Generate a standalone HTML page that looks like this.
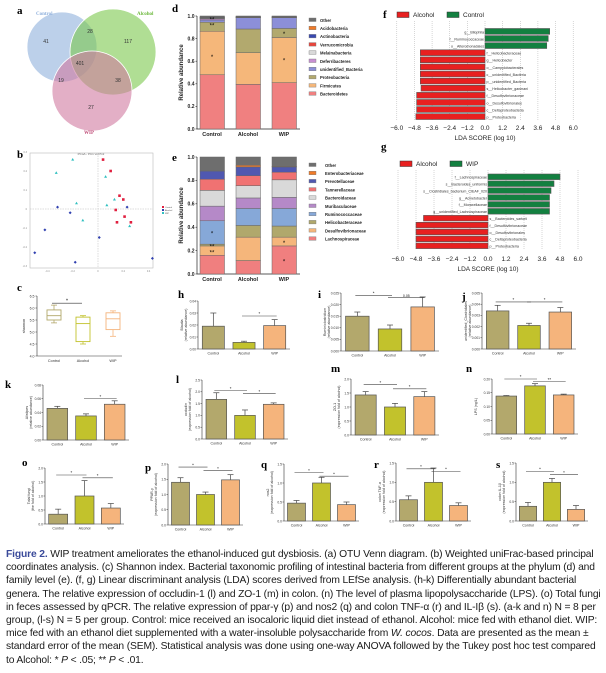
<!DOCTYPE html>
<html><head><meta charset="utf-8"><style>
html,body{margin:0;padding:0;background:#fff;}
svg{display:block;font-family:"Liberation Sans",sans-serif;}
.cap{position:absolute;left:6px;top:548px;width:596px;font-family:"Liberation Sans",sans-serif;font-size:10.3px;line-height:13.2px;color:#1a1a1a;letter-spacing:-0.15px;}
.cap b{color:#3a4a9a;font-weight:bold;}
</style></head><body>
<div style="position:relative;width:606px;height:673px;overflow:hidden">
<svg id="fig" width="606" height="545" viewBox="0 0 606 545"></svg>
<div class="cap"><b>Figure 2.</b> WIP treatment ameliorates the ethanol-induced gut dysbiosis. (a) OTU Venn diagram. (b) Weighted uniFrac-based principal coordinates analysis. (c) Shannon index. Bacterial taxonomic profiling of intestinal bacteria from different groups at the phylum (d) and family level (e). (f, g) Linear discriminant analysis (LDA) scores derived from LEfSe analysis. (h-k) Differentially abundant bacterial genera. The relative expression of occludin-1 (l) and ZO-1 (m) in colon. (n) The level of plasma lipopolysaccharide (LPS). (o) Total fungi in feces assessed by qPCR. The relative expression of ppar-γ (p) and nos2 (q) and colon TNF-α (r) and IL-Iβ (s). (a-k and n) N = 8 per group, (l-s) N = 5 per group. Control: mice received an isocaloric liquid diet instead of ethanol. Alcohol: mice fed with ethanol diet. WIP: mice fed with an ethanol diet supplemented with a water-insoluble polysaccharide from <i>W. cocos</i>. Data are presented as the mean ± standard error of the mean (SEM). Statistical analysis was done using one-way ANOVA followed by the Tukey post hoc test compared to Alcohol: * <i>P</i> &lt; .05; ** <i>P</i> &lt; .01.</div>
</div>
<script>
// ---------- data ----------
const groups = ['Control','Alcohol','WIP'];
const vennCounts = ['41','28','117','401','19','38','27'];
const pcoaCtrlX=[0.04,0.10,0.17,0.20,0.14,0.21,0.15,0.26];
const pcoaCtrlY=[0.26,0.20,0.07,0.05,-0.005,-0.04,-0.07,-0.07];
const pcoaAlcX=[-0.32,-0.22,-0.42,-0.50,-0.18,0.01,0.23,0.43];
const pcoaAlcY=[0.01,-0.02,-0.11,-0.23,-0.28,-0.15,0.01,-0.26];
const pcoaWipX=[-0.20,-0.33,0.06,0.13,0.07,-0.17,-0.12,0.25];
const pcoaWipY=[0.26,0.19,0.17,0.05,0.02,0.03,-0.06,-0.09];
const shannonTicks=[4.0,4.5,5.0,5.5,6.0,6.5];
const shannonMin=[5.38,4.50,4.82];
const shannonQ1=[5.50,4.60,5.10];
const shannonMed=[5.68,5.35,5.55];
const shannonQ3=[5.92,5.62,5.80];
const shannonMax=[6.12,5.68,5.88];
const phylumNames=['Bacteroidetes','Firmicutes','Proteobacteria','unidentified_Bacteria','Deferribacteres','Melainabacteria','Verrucomicrobia','Actinobacteria','Acidobacteria','Other'];
const phylumCtrl=[0.48,0.385,0.08,0.02,0.01,0.005,0.005,0.003,0.002,0.01];
const phylumAlc=[0.395,0.28,0.21,0.10,0.002,0.001,0.001,0.004,0.001,0.006];
const phylumWip=[0.41,0.40,0.08,0.095,0.002,0.001,0.001,0.004,0.001,0.006];
const familyNames=['Lachnospiraceae','Desulfovibrionaceae','Helicobacteraceae','Ruminococcaceae','Muribaculaceae','Bacteroidaceae','Tannerellaceae','Prevotellaceae','Enterobacteriaceae','Other'];
const familyCtrl=[0.16,0.08,0.015,0.20,0.125,0.135,0.095,0.07,0.0,0.12];
const familyAlc=[0.115,0.20,0.10,0.145,0.09,0.105,0.085,0.075,0.015,0.07];
const familyWip=[0.24,0.075,0.095,0.15,0.095,0.15,0.065,0.045,0.005,0.08];
const stackTicks=[0.0,0.2,0.4,0.6,0.8,1.0];
const ldaTicks=[-6.0,-4.8,-3.6,-2.4,-1.2,0.0,1.2,2.4,3.6,4.8,6.0];
const ldaFNames=['g__Bilophila','f__Ruminococcaceae','o__Alteromonadales','f__Helicobacteraceae','g__Helicobacter','o__Campylobacterales','c__unidentified_Bacteria','p__unidentified_Bacteria','s__Helicobacter_ganmani','f__Desulfovibrionaceae','o__Desulfovibrionales','c__Deltaproteobacteria','p__Proteobacteria'];
const ldaFVals=[4.4,4.3,4.2,-4.4,-4.4,-4.4,-4.4,-4.4,-4.35,-4.65,-4.65,-4.65,-4.7];
const ldaGNames=['f__Lachnospiraceae','s__Bacteroides_uniformis','s__Clostridiales_bacterium_CIEAF_020','g__Acinetobacter','f__Moraxellaceae','g__unidentified_Lachnospiraceae','s__Bacteroides_sartorii','f__Desulfovibrionaceae','o__Desulfovibrionales','c__Deltaproteobacteria','p__Proteobacteria'];
const ldaGVals=[4.8,4.4,4.2,4.1,4.1,4.1,-4.3,-4.8,-4.8,-4.8,-4.8];
const hVals=[0.019,0.0055,0.0195], hErr=[0.011,0.001,0.005], hTicks=[0,0.01,0.02,0.03,0.04];
const iVals=[0.015,0.0095,0.019], iErr=[0.0018,0.0017,0.0043], iTicks=[0,0.005,0.010,0.015,0.020,0.025];
const jVals=[0.0034,0.0021,0.0033], jErr=[0.0005,0.0002,0.0004], jTicks=[0,0.001,0.002,0.003,0.004,0.005];
const kVals=[0.046,0.035,0.052], kErr=[0.003,0.003,0.005], kTicks=[0,0.02,0.04,0.06,0.08];
const lVals=[1.68,1.0,1.47], lErr=[0.28,0.23,0.06], lTicks=[0,0.5,1.0,1.5,2.0,2.5];
const mVals=[1.43,1.0,1.37], mErr=[0.12,0.13,0.18], mTicks=[0,0.5,1.0,1.5,2.0];
const nVals=[0.138,0.175,0.142], nErr=[0.002,0.008,0.003], nTicks=[0,0.05,0.10,0.15,0.20];
const oVals=[0.35,1.0,0.57], oErr=[0.18,0.55,0.16], oTicks=[0,0.5,1.0,1.5,2.0];
const pVals=[1.4,1.0,1.48], pErr=[0.15,0.08,0.17], pTicks=[0,0.5,1.0,1.5,2.0];
const qVals=[0.47,1.0,0.43], qErr=[0.07,0.15,0.07], qTicks=[0,0.5,1.0,1.5];
const rVals=[0.55,1.0,0.40], rErr=[0.10,0.37,0.07], rTicks=[0,0.5,1.0,1.5];
const sVals=[0.38,1.0,0.30], sErr=[0.10,0.10,0.10], sTicks=[0,0.5,1.0,1.5];

// ---------- helpers ----------
const NS='http://www.w3.org/2000/svg';
const svg=document.getElementById('fig');
function mk(tag,attrs,parent){const e=document.createElementNS(NS,tag);for(const k in attrs)e.setAttribute(k,attrs[k]);(parent||svg).appendChild(e);return e;}
function txt(x,y,s,size,attrs,parent){const t=mk('text',Object.assign({x:x,y:y,'font-size':size},attrs||{}),parent);t.textContent=s;return t;}
function label(x,y,s){const t=txt(x,y,s,11,{'font-family':'Liberation Serif, serif','font-weight':'bold'});

}
const grpCol=['#b3a86c','#c2c22c','#f5b47c'];

// ---------- a: Venn ----------
label(17,14,'a');
const vg=mk('g',{});


const vc=[[62,47,35,'#8fb0dc'],[113,52,43,'#7cc84c'],[92,91,40,'#d07aa0']];
vc.forEach((c,i)=>{const ci=mk('circle',{cx:c[0],cy:c[1],r:c[2],fill:c[3],'fill-opacity':0.6,stroke:'#fff','stroke-width':0.8},vg);

});
const vpos=[[46,43],[90,33],[128,43],[80,65],[61,82],[118,82],[91,109]];
vennCounts.forEach((s,i)=>{const t=txt(vpos[i][0],vpos[i][1],s,5,{'text-anchor':'middle',fill:'#333'},vg);

});
txt(36,15,'Control',5,{fill:'#8fb0dc','font-weight':'bold','font-family':'Liberation Serif, serif'},vg);
txt(137,15,'Alcohol',5,{fill:'#6cb83c','font-weight':'bold','font-family':'Liberation Serif, serif'},vg);
txt(84,134,'WIP',5,{fill:'#c0507a','font-weight':'bold','font-family':'Liberation Serif, serif'},vg);

// ---------- b: PCoA ----------
label(17,158,'b');
const pg=mk('g',{});


mk('rect',{x:30,y:153,width:123,height:115,fill:'none',stroke:'#bbb','stroke-width':0.6},pg);
const px=v=>98+v*126.5, py=v=>209-v*190;
mk('line',{x1:px(0),x2:px(0),y1:153,y2:268,stroke:'#bbb','stroke-dasharray':'1.5,1','stroke-width':0.5},pg);
mk('line',{x1:30,x2:153,y1:py(0),y2:py(0),stroke:'#bbb','stroke-dasharray':'1.5,1','stroke-width':0.5},pg);
txt(91,155,'PCoA - PC1 vs PC2',3,{'text-anchor':'middle',fill:'#666'},pg);
[-0.4,-0.2,0,0.2,0.4].forEach(v=>txt(px(v),272,String(v),2.5,{'text-anchor':'middle',fill:'#888'},pg));
[0.3,0.2,0.1,0,-0.1,-0.2,-0.3].forEach(v=>txt(27,py(v)+1,String(v),2.5,{'text-anchor':'end',fill:'#888'},pg));
const pc=['#e02040','#3040b0','#30c0c0'];
[[pcoaCtrlX,pcoaCtrlY],[pcoaAlcX,pcoaAlcY],[pcoaWipX,pcoaWipY]].forEach((d,g)=>{
 d[0].forEach((v,i)=>{let m;
  if(g===2) m=mk('path',{d:`M${px(v)},${py(d[1][i])-1.6}l1.5,2.6h-3z`,fill:pc[g]},pg);
  else if(g===1) m=mk('path',{d:`M${px(v)},${py(d[1][i])-1.5}l1.5,1.5l-1.5,1.5l-1.5,-1.5z`,fill:pc[g]},pg);
  else m=mk('rect',{x:px(v)-1.3,y:py(d[1][i])-1.3,width:2.6,height:2.6,fill:pc[g]},pg);
  
  });});
groups.forEach((g,i)=>{mk('rect',{x:162,y:206+i*3,width:2,height:2,fill:pc[i]},pg);txt(165,208+i*3,g,2.2,{fill:'#555'},pg);});

// ---------- c: Shannon ----------
label(17,291,'c');
(function(){const g=mk('g',{});


const x0=37,x1=122,yT=296,yB=356,lo=4.0,hi=6.5;const y=v=>yB-(v-lo)/(hi-lo)*(yB-yT);
mk('line',{x1:x0,x2:x0,y1:yT,y2:yB,stroke:'#333','stroke-width':0.6},g);
mk('line',{x1:x0,x2:x1,y1:yB,y2:yB,stroke:'#333','stroke-width':0.6},g);
shannonTicks.forEach(v=>{mk('line',{x1:x0-1.5,x2:x0,y1:y(v),y2:y(v),stroke:'#333','stroke-width':0.5},g);txt(x0-2.5,y(v)+1.5,v.toFixed(1),3.5,{'text-anchor':'end',fill:'#333'},g);});
txt(0,0,'shannon',3.8,{transform:`translate(${x0-12},${(yT+yB)/2}) rotate(-90)`,'text-anchor':'middle',fill:'#333'},g);
const cx=[54,83,113];
groups.forEach((n,i)=>{const c=cx[i],w=7;
 const bx=mk('rect',{x:c-w,y:y(shannonQ3[i]),width:2*w,height:y(shannonQ1[i])-y(shannonQ3[i]),fill:'#fff',stroke:grpCol[i],'stroke-width':0.9},g);
 
 
 mk('line',{x1:c-w,x2:c+w,y1:y(shannonMed[i]),y2:y(shannonMed[i]),stroke:grpCol[i],'stroke-width':0.9},g);
 mk('line',{x1:c,x2:c,y1:y(shannonMax[i]),y2:y(shannonQ3[i]),stroke:grpCol[i],'stroke-width':0.8},g);
 mk('line',{x1:c,x2:c,y1:y(shannonQ1[i]),y2:y(shannonMin[i]),stroke:grpCol[i],'stroke-width':0.8},g);
 mk('line',{x1:c-3,x2:c+3,y1:y(shannonMax[i]),y2:y(shannonMax[i]),stroke:grpCol[i],'stroke-width':0.8},g);
 mk('line',{x1:c-3,x2:c+3,y1:y(shannonMin[i]),y2:y(shannonMin[i]),stroke:grpCol[i],'stroke-width':0.8},g);
 txt(c,yB+6,n,3.8,{'text-anchor':'middle',fill:'#333'},g);});
mk('line',{x1:52,x2:82,y1:y(6.2),y2:y(6.2),stroke:'#333','stroke-width':0.6},g);
txt(67,y(6.2)-0.5,'*',5,{'text-anchor':'middle'},g);})();

// ---------- stacked bars d,e ----------
function stacked(name,lab,ly,yT,yB,data,cols,names,legY,legX){
 label(172,ly,lab);
 const g=mk('g',{});
 
 
 const y=v=>yB-v*(yB-yT);const ax=197;
 mk('line',{x1:ax,x2:ax,y1:yT,y2:yB,stroke:'#222','stroke-width':0.7},g);
 mk('line',{x1:ax,x2:300,y1:yB,y2:yB,stroke:'#222','stroke-width':0.7},g);
 stackTicks.forEach(v=>{mk('line',{x1:ax-1.5,x2:ax,y1:y(v),y2:y(v),stroke:'#222','stroke-width':0.6},g);txt(ax-2.5,y(v)+1.8,v.toFixed(1),5,{'text-anchor':'end','font-weight':'bold',fill:'#222'},g);});
 txt(0,0,'Relative abundance',6,{transform:`translate(183,${(yT+yB)/2}) rotate(-90)`,'text-anchor':'middle','font-weight':'bold',fill:'#222'},g);
 const bx=[200,236,272];
 data.forEach((arr,gi)=>{let acc=0;arr.forEach((v,k)=>{if(v>0){const r=mk('rect',{x:bx[gi],y:y(acc+v),width:24.5,height:y(acc)-y(acc+v),fill:cols[k],stroke:'#666','stroke-width':0.5},g);
   
   }acc+=v;});
  txt(bx[gi]+12,yB+7,groups[gi],5.5,{'text-anchor':'middle','font-weight':'bold',fill:'#222'},g);});
 const lg=mk('g',{});
 
 
 for(let k=names.length-1,j=0;k>=0;k--,j++){mk('rect',{x:309,y:legY+j*8.2-3,width:7,height:3.5,fill:cols[k],stroke:'#777','stroke-width':0.4},lg);
  txt(legX,legY+j*8.2+0.8,names[k],4.2,{'font-weight':'bold',fill:'#222'},lg);}
 return {g,y};}
const phylumCols=['#f08080','#f5b77a','#b2a96e','#8c8fd8','#c88fd2','#d9d9d9','#e8453c','#3848b0','#f07b28','#6e6e6e'];
const famCols=['#f07f7f','#f5b67b','#b0a86c','#86a8d8','#b589c8','#d9d9d9','#f07272','#5058b0','#f07b28','#6e6e6e'];
const pd=stacked('phylum-stacked-chart','d',12,16,129,[phylumCtrl,phylumAlc,phylumWip],phylumCols,phylumNames,21,320);
[[212,pd.y(0.64),'*'],[212,pd.y(0.975),'**'],[212,pd.y(0.92),'**'],[284,pd.y(0.845),'*'],[284,pd.y(0.61),'*']].forEach(s=>txt(s[0],s[1]+2.5,s[2],6,{'text-anchor':'middle'},pd.g));
const pe=stacked('family-stacked-chart','e',161,157,274,[familyCtrl,familyAlc,familyWip],famCols,familyNames,166,325);
[[212,pe.y(0.35),'*'],[212,pe.y(0.24),'**'],[212,pe.y(0.19),'**'],[284,pe.y(0.27),'*'],[284,pe.y(0.11),'*']].forEach(s=>txt(s[0],s[1]+2.5,s[2],6,{'text-anchor':'middle'},pe.g));

// ---------- LDA f,g ----------
function lda(name,lab,lx,ly,legY,legB,zero,unit,rowT,rowSp,names,vals,tickY,posName){
 label(lx,ly,lab);
 const g=mk('g',{});
 
 
 const x=v=>zero+v*unit;
 ldaTicks.forEach(v=>{mk('line',{x1:x(v),x2:x(v),y1:legY+6,y2:rowT+rowSp*names.length,stroke:'#999','stroke-width':0.4,'stroke-dasharray':'1,1'},g);
  txt(x(v),tickY,(v<0?'\u2212':'')+Math.abs(v).toFixed(1),6.5,{'text-anchor':'middle',fill:'#222'},g);});
 txt(x(0),tickY+10,'LDA SCORE (log 10)',6.5,{'text-anchor':'middle',fill:'#222'},g);
 vals.forEach((v,i)=>{const yy=rowT+i*rowSp;const r=mk('rect',{x:Math.min(x(0),x(v)),y:yy,width:Math.abs(x(v)-x(0)),height:rowSp-1.3,fill:v>0?'#138040':'#e82020',stroke:'#555','stroke-width':0.6},g);
  
  
  txt(v>0?x(0)-1:x(0)+1.5,yy+rowSp-2.3,names[i],3.6,{'text-anchor':v>0?'end':'start',fill:'#333'},g);});
 const l1=mk('rect',{x:legB,y:legY-3,width:12,height:5.5,fill:'#e82020',stroke:'#333','stroke-width':0.5},g);
 
 
 txt(legB+16,legY+2,'Alcohol',6.5,{fill:'#222'},g);
 const l2=mk('rect',{x:legB+50,y:legY-3,width:12,height:5.5,fill:'#138040',stroke:'#333','stroke-width':0.5},g);
 
 
 txt(legB+66,legY+2,posName,6.5,{fill:'#222'},g);}
lda('lda-chart-f','f',383,18,15,397,485,14.7,28.5,7.1,ldaFNames,ldaFVals,130,'Control');
lda('lda-chart-g','g',381,150,164,400,488,15.0,174,6.9,ldaGNames,ldaGVals,261,'WIP');

// ---------- bar panels ----------
function barPanel(name,lab,lx,ly,x0,x1,yT,yB,ticks,vals,errs,sig,ylab1,ylab2,dec){
 label(lx,ly,lab);
 const g=mk('g',{});
 
 
 const mx=ticks[ticks.length-1];const y=v=>yB-v/mx*(yB-yT);
 mk('line',{x1:x0,x2:x0,y1:yT,y2:yB,stroke:'#333','stroke-width':0.6},g);
 mk('line',{x1:x0,x2:x1,y1:yB,y2:yB,stroke:'#333','stroke-width':0.6},g);
 ticks.forEach(v=>{mk('line',{x1:x0-1.5,x2:x0,y1:y(v),y2:y(v),stroke:'#333','stroke-width':0.5},g);txt(x0-2,y(v)+1.3,v.toFixed(dec),3.3,{'text-anchor':'end',fill:'#333'},g);});
 const cy=(yT+yB)/2;
 txt(0,0,ylab1,3.6,{transform:`translate(${x0-15},${cy}) rotate(-90)`,'text-anchor':'middle',fill:'#333'},g);
 if(ylab2)txt(0,0,ylab2,3.6,{transform:`translate(${x0-11},${cy}) rotate(-90)`,'text-anchor':'middle',fill:'#333'},g);
 const slot=(x1-x0)/3,bw=slot*0.72,cx=[];
 vals.forEach((v,i)=>{const c=x0+slot*(i+0.5);cx.push(c);
  mk('line',{x1:c,x2:c,y1:y(v),y2:y(v+errs[i]),stroke:'#444','stroke-width':0.7},g);
  mk('line',{x1:c-3,x2:c+3,y1:y(v+errs[i]),y2:y(v+errs[i]),stroke:'#444','stroke-width':0.7},g);
  const r=mk('rect',{x:c-bw/2,y:y(v),width:bw,height:yB-y(v),fill:grpCol[i],stroke:'#555','stroke-width':0.7},g);
  
  
  txt(c,yB+5.5,groups[i],3.6,{'text-anchor':'middle',fill:'#333'},g);});
 sig.forEach(s=>{const yy=y(s[2]);mk('line',{x1:cx[s[0]]-2,x2:cx[s[1]]+2,y1:yy,y2:yy,stroke:'#444','stroke-width':0.6},g);
  txt((cx[s[0]]+cx[s[1]])/2,yy-0.8,s[3],s[3].length>2?3.5:4.5,{'text-anchor':'middle',fill:'#222'},g);});}
barPanel('bar-chart-h','h',178,298,198,290,301,349,hTicks,hVals,hErr,[[1,2,0.0275,'*']],'Blautia','(relative abundance)',2);
barPanel('bar-chart-i','i',318,298,341,439,293,351,iTicks,iVals,iErr,[[0,1,0.024,'*'],[1,2,0.023,'0.05']],'Ruminiclostridium','(relative abundance)',3);
barPanel('bar-chart-j','j',462,300,482,576,293,349,jTicks,jVals,jErr,[[0,1,0.0042,'*'],[1,2,0.0042,'*']],'unidentified_Clostridiales','(relative abundance)',3);
barPanel('bar-chart-k','k',5,388,43,129,385,440,kTicks,kVals,kErr,[[1,2,0.06,'*']],'Alistipes','(relative abundance)',2);
barPanel('bar-chart-l','l',176,383,202,288,380,439,lTicks,lVals,lErr,[[0,1,2.05,'*'],[1,2,1.92,'*']],'occludin','(expression fold of alcohol)',1);
barPanel('bar-chart-m','m',331,372,351,439,379,435,mTicks,mVals,mErr,[[0,1,1.8,'*'],[1,2,1.65,'*']],'ZO-1','(expression fold of alcohol)',1);
barPanel('bar-chart-n','n',466,372,492,578,379,434,nTicks,nVals,nErr,[[0,1,0.2,'*'],[1,2,0.19,'**']],'LPS (ng/L)','',2);
barPanel('bar-chart-o','o',22,466,45,124,468,524,oTicks,oVals,oErr,[[0,1,1.75,'*'],[1,2,1.65,'*']],'Total fungi','(the fold of alcohol)',1);
barPanel('bar-chart-p','p',145,471,168,243,464,525,pTicks,pVals,pErr,[[0,1,1.9,'*'],[1,2,1.78,'*']],'PPAR-γ','(expression fold of alcohol)',1);
barPanel('bar-chart-q','q',261,468,284,359,464,521,qTicks,qVals,qErr,[[0,1,1.27,'*'],[1,2,1.18,'*']],'nos2','(expression fold of alcohol)',1);
barPanel('bar-chart-r','r',374,468,396,471,463,521,rTicks,rVals,rErr,[[0,1,1.35,'*'],[1,2,1.28,'*']],'colon TNF-α','(expression fold of alcohol)',1);
barPanel('bar-chart-s','s',496,468,516,588,463,521,sTicks,sVals,sErr,[[0,1,1.28,'*'],[1,2,1.2,'*']],'colon IL-1β','(expression fold of alcohol)',1);
</script>
</body></html>
